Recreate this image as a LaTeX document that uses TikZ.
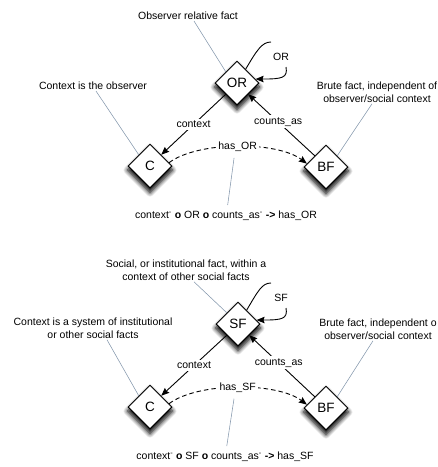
\documentclass[tikz,border=0pt]{standalone}
\usepackage{fontspec}
\setmainfont{Liberation Sans}
\usetikzlibrary{shapes.geometric,arrows.meta,shadows.blur}
\tikzset{
  txt/.style={font=\fontsize{10.5}{13.5}\selectfont, inner sep=1pt, align=center},
  fact/.style={diamond, draw=black, line width=1pt, fill=white, minimum width=44pt,
    minimum height=44pt, inner sep=0pt, aspect=1, font=\fontsize{13.5}{15}\selectfont,
    blur shadow={shadow xshift=0pt, shadow yshift=-4pt, shadow scale=1.04, shadow blur radius=4pt, shadow blur steps=10, shadow opacity=100}},
  conn/.style={line width=0.9pt, draw=black},
  tip/.style={-{Stealth[length=8pt,width=6.5pt,inset=1pt]}},
  lbl/.style={txt, fill=white, inner sep=2pt},
  note/.style={draw=noteblue, line width=0.55pt},
  dashedconn/.style={conn, dash pattern=on 4.5pt off 3pt}
}
\definecolor{noteblue}{HTML}{8497AC}
\begin{document}
\begin{tikzpicture}[x=1pt,y=-1pt]
\useasboundingbox (0,0) rectangle (438,467);
% ---------------- top diagram ----------------
\node[txt] (t1) at (188,16) {Observer relative fact};
\node[txt] (t2) at (93,86) {Context is the observer};
\node[txt] (t3) at (377,92) {Brute fact, independent of\\observer/social context};
\node[fact] (OR) at (237,83) {OR};
\node[fact] (C) at (150,166) {C};
\node[fact] (BF) at (326,167) {BF};
\node[txt] (lOR) at (281,57) {OR};
\coordinate (la) at (271,42);
\coordinate (lb) at (286,67);
\node[txt] (f1) at (226,216) {context\textsuperscript{-} \textbf{o} OR \textbf{o} counts\_as\textsuperscript{-} \textbf{->} has\_OR};

\draw[note] ([xshift=6pt]t1.south) -- (OR.north west);
\draw[note] ([xshift=3pt]t2.south) -- (C.north west);
\draw[note] ([xshift=-5pt]t3.south) -- (BF.north east);

\draw[conn] (OR.58) .. controls (257,50) and (262,42) .. (la);
\draw[conn,tip] (lb) .. controls (288,78) and (282,79) .. (OR.12);
\draw[conn,tip] (OR.south west) -- node[lbl,pos=0.5] (ctx1) {context} (C.north east);
\draw[conn,tip] (BF.north west) -- node[lbl,pos=0.55] (cnt1) {counts\_as} (OR.south east);
\draw[dashedconn,tip] (C.10) .. controls (198,141) and (277,141) .. node[lbl,pos=0.5] (has1) {has\_OR} (BF.170);
\draw[note, shorten <=4pt, shorten >=5pt] ([xshift=-3pt]has1.south) -- ([xshift=1pt]f1.north);

% ---------------- bottom diagram ----------------
\node[txt] (t4) at (186,270) {Social, or institutional fact, within a\\context of other social facts};
\node[txt] (t5) at (93,328) {Context is a system of institutional\\or other social facts};
\node[txt] (t6) at (378,329) {Brute fact, independent o\\observer/social context};
\node[fact] (SF) at (238,324) {SF};
\node[fact] (C2) at (150,407) {C};
\node[fact] (BF2) at (326,408) {BF};
\node[txt] (lSF) at (281,298) {SF};
\coordinate (lc) at (271,283);
\coordinate (ld) at (286,308);
\node[txt] (f2) at (225,457) {context\textsuperscript{-} \textbf{o} SF \textbf{o} counts\_as\textsuperscript{-} \textbf{->} has\_SF};

\draw[note] ([xshift=8pt]t4.south) -- (SF.north west);
\draw[note] ([xshift=14pt]t5.south) -- (C2.north west);
\draw[note] ([xshift=-5pt]t6.south) -- (BF2.north east);

\draw[conn] (SF.58) .. controls (258,291) and (262,283) .. (lc);
\draw[conn,tip] (ld) .. controls (288,319) and (282,320) .. (SF.12);
\draw[conn,tip] (SF.south west) -- node[lbl,pos=0.5] (ctx2) {context} (C2.north east);
\draw[conn,tip] (BF2.north west) -- node[lbl,pos=0.55] (cnt2) {counts\_as} (SF.south east);
\draw[dashedconn,tip] (C2.10) .. controls (198,382) and (277,382) .. node[lbl,pos=0.5] (has2) {has\_SF} (BF2.170);
\draw[note, shorten <=4pt, shorten >=5pt] ([xshift=-3pt]has2.south) -- ([xshift=1pt]f2.north);
\end{tikzpicture}
\end{document}
